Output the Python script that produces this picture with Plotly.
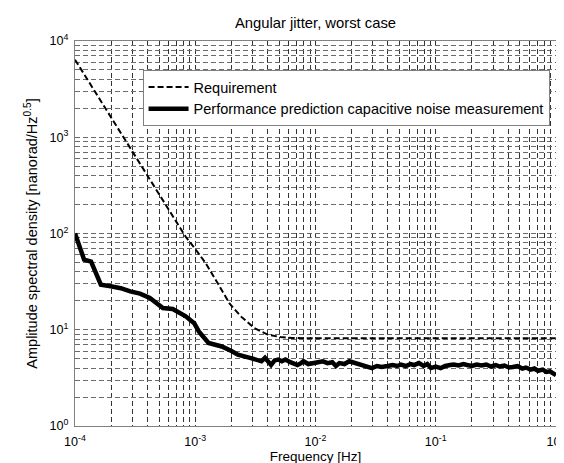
import plotly.graph_objects as go

# ---- data ----
req_freq = [1e-4, 2e-4, 5e-4, 8.3e-4, 1.0e-3, 1.21e-3, 1.56e-3, 1.94e-3, 2.42e-3,
            3.1e-3, 4.0e-3, 5.1e-3, 6.4e-3, 1e-2, 1.0]
req_vals = [6400, 1590, 253, 93, 69, 50, 29.5, 18.5, 13.6,
            10.4, 8.9, 8.4, 8.2, 8.15, 8.15]

perf_freq = [1.00e-4, 1.10e-4, 1.19e-4, 1.36e-4, 1.49e-4, 1.64e-4, 1.98e-4, 2.40e-4,
             2.88e-4, 3.47e-4, 4.19e-4, 4.80e-4, 5.38e-4, 6.49e-4, 7.80e-4, 8.33e-4,
             9.80e-4, 1.07e-3, 1.29e-3, 1.66e-3, 2.00e-3, 2.26e-3, 2.90e-3,
             3.16e-3, 3.55e-3, 3.80e-3, 4.07e-3, 4.27e-3, 4.57e-3, 4.90e-3, 5.25e-3,
             5.62e-3, 6.17e-3, 6.61e-3, 7.08e-3, 7.59e-3, 7.94e-3, 8.71e-3, 9.55e-3,
             1.05e-2, 1.15e-2, 1.26e-2, 1.38e-2, 1.48e-2, 1.58e-2, 1.74e-2, 1.91e-2,
             2.09e-2, 2.29e-2, 2.51e-2, 2.75e-2, 2.95e-2, 3.24e-2, 3.55e-2, 3.98e-2,
             4.37e-2, 4.79e-2, 5.13e-2, 5.62e-2, 6.17e-2, 6.61e-2, 7.24e-2, 7.94e-2,
             8.51e-2, 9.12e-2, 0.100, 0.110, 0.120, 0.132, 0.141, 0.155, 0.170,
             0.182, 0.200, 0.219, 0.240, 0.263, 0.288, 0.316, 0.339, 0.372, 0.407,
             0.437, 0.479, 0.525, 0.562, 0.617, 0.661, 0.708, 0.776, 0.832, 0.891,
             0.955, 1.0]
perf_vals = [100, 72, 53.5, 51, 40, 29.4, 28.3, 27,
             25, 23.7, 21.4, 19, 16.8, 16.4, 14.6, 13.8,
             11.7, 9.6, 7.3, 6.7, 6.0, 5.5, 5.08,
             4.9, 4.7, 5.1, 4.6, 4.3, 4.8, 4.9, 4.7,
             4.9, 4.6, 4.5, 4.3, 4.5, 4.7, 4.4, 4.45,
             4.6, 4.7, 4.5, 4.6, 4.2, 4.5, 4.4, 4.7,
             4.55, 4.5, 4.3, 4.1, 4.0, 4.2, 4.1, 4.2,
             4.3, 4.2, 4.35, 4.2, 4.4, 4.3, 4.5, 4.2,
             4.4, 4.0, 4.15, 4.0, 4.2, 4.3, 4.35, 4.25, 4.4,
             4.3, 4.2, 4.35, 4.25, 4.35, 4.15, 4.3, 4.15, 4.25, 4.05,
             4.1, 4.2, 3.95, 4.05, 3.85, 3.95, 3.75, 3.85, 3.65, 3.7,
             3.5, 3.37]

x_decades = [-4, -3, -2, -1, 0]
y_decades = [0, 1, 2, 3, 4]
mantissas = [1, 2, 3, 4, 5, 6, 7, 8, 9]

title_text = "Angular jitter, worst case"
x_title = "Frequency [Hz]"
y_title = "Amplitude spectral density [nanorad/Hz<sup>0.5</sup>]"
names = ["Requirement", "Performance prediction capacitive noise measurement"]


def log_ticks(decades):
    vals, texts = [], []
    for i, d in enumerate(decades):
        for m in mantissas:
            if i == len(decades) - 1 and m > 1:
                break
            vals.append(m * 10.0 ** d)
            texts.append(f"10<sup>{d}</sup>" if m == 1 else "")
    return vals, texts


xtv, xtt = log_ticks(x_decades)
ytv, ytt = log_ticks(y_decades)

FONT = "Liberation Sans, Arial, Helvetica, sans-serif"

fig = go.Figure()
fig.add_trace(go.Scatter(x=req_freq, y=req_vals, mode="lines", name=names[0],
                         line=dict(color="black", width=2, dash="6px,3px")))
fig.add_trace(go.Scatter(x=perf_freq, y=perf_vals, mode="lines", name=names[1],
                         line=dict(color="black", width=4.5)))

axis_common = dict(
    showline=True, linecolor="#808080", linewidth=1, mirror=True,
    showgrid=True, griddash="5px,3px", gridwidth=1,
    ticks="", zeroline=False, ticklabeloverflow="allow",
    tickfont=dict(family=FONT, size=12.6, color="black"),
)

fig.update_xaxes(type="log", range=[-4.0002, 0.0002], tickmode="array", tickvals=xtv, ticktext=xtt,
                 gridcolor="#333333", ticklabelstandoff=4,
                 title=dict(text=x_title, font=dict(family=FONT, size=13.5, color="black"), standoff=0),
                 **axis_common)
fig.update_yaxes(type="log", range=[-0.0002, 4.0002], tickmode="array", tickvals=ytv, ticktext=ytt,
                 gridcolor="#6a6a6a", ticklabelstandoff=3,
                 title=dict(text=y_title, font=dict(family=FONT, size=14.5, color="black"), standoff=8),
                 **axis_common)

fig.update_layout(
    width=564, height=463,
    margin=dict(l=67, r=6, t=33, b=45),
    paper_bgcolor="white", plot_bgcolor="white",
    font=dict(family=FONT, size=12.6, color="black"),
    title=dict(text=title_text, x=0.5, xref="paper", y=1 - 15 / 463, yref="container",
               xanchor="center", yanchor="middle", font=dict(family=FONT, size=14.8, color="black")),
    legend=dict(x=0.1405, y=0.9247, xanchor="left", yanchor="top",
                bgcolor="white", bordercolor="#808080", borderwidth=1,
                font=dict(family=FONT, size=14.5, color="black"), itemwidth=40),
    showlegend=True,
)

fig.write_html("out.html")
